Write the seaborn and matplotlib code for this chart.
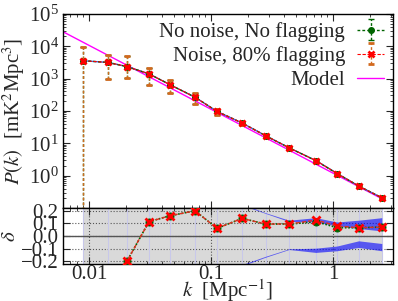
import numpy as np
import pandas as pd
import seaborn as sns
import matplotlib
matplotlib.use("Agg")
import matplotlib.pyplot as plt
from matplotlib.ticker import LogLocator, NullFormatter, FixedLocator

# k bins [Mpc^-1]
k = [0.009, 0.0143, 0.0205, 0.031, 0.046, 0.074, 0.112, 0.18, 0.28, 0.44, 0.73, 1.09, 1.64, 2.54]

# P(k) [mK^2 Mpc^3], noise + 80% flagging
P_flag = [3550, 3150, 2340, 1400, 650, 265, 96.6, 42.3, 17.2, 7.16, 2.88, 1.15, 0.47, 0.204]
# no noise, no flagging
P_clean = [3550, 3150, 2340, 1400, 650, 265, 96.6, 42.3, 17.2, 7.16, 2.85, 1.135, 0.47, 0.204]
# error bar bounds
P_hi = [9200, 5400, 5000, 2090, 910, 355, 117, 47, 18.6, 7.5, 3.0, 1.2, 0.49, 0.21]
P_lo = [0, 980, 1050, 645, 355, 166, 76, 38, 15.9, 6.8, 2.76, 1.1, 0.45, 0.198]

# model power spectrum
model_k = [0.005, 0.01, 0.1, 1.0, 2.54]
model_P = [41700, 10600, 113, 1.2, 0.19]

# fractional difference delta
delta_flag = [-0.72, -0.45, -0.196, 0.112, 0.159, 0.198, 0.06, 0.138, 0.094, 0.094, 0.125, 0.078, 0.065, 0.07]
delta_clean = [-0.72, -0.45, -0.196, 0.112, 0.159, 0.198, 0.06, 0.138, 0.094, 0.094, 0.112, 0.065, 0.065, 0.07]

# error bands (blue)
up_hi = [3.0, 2.5, 2.0, 1.5, 1.0, 0.7, 0.45, 0.25, 0.18, 0.12, 0.14, 0.106, 0.12, 0.14]
up_lo = [2.9, 2.4, 1.9, 1.45, 0.98, 0.68, 0.44, 0.24, 0.175, 0.11, 0.106, 0.075, 0.055, 0.036]
dn_hi = [-2.9, -2.4, -1.9, -1.45, -0.98, -0.68, -0.44, -0.23, -0.165, -0.105, -0.10, -0.083, -0.042, -0.063]
dn_lo = [-3.0, -2.5, -2.0, -1.5, -1.0, -0.7, -0.45, -0.24, -0.172, -0.11, -0.133, -0.12, -0.094, -0.12]

lbl_clean = "No noise, No flagging"
lbl_flag = "Noise, 80% flagging"
lbl_model = "Model"

sns.set_style("ticks")
plt.rcParams['font.family'] = ['Liberation Serif', 'DejaVu Serif']
plt.rcParams['mathtext.fontset'] = 'stix'
plt.rcParams['font.size'] = 15
plt.rcParams['xtick.direction'] = 'in'
plt.rcParams['ytick.direction'] = 'in'
plt.rcParams['xtick.top'] = True
plt.rcParams['ytick.right'] = True
plt.rcParams['axes.edgecolor'] = 'black'
plt.rcParams['axes.linewidth'] = 1.0

fig = plt.figure(figsize=(3.98, 3.01), dpi=100)
ax1 = fig.add_axes([0.158, 0.309, 0.829, 0.645])
ax2 = fig.add_axes([0.158, 0.123, 0.829, 0.186], sharex=ax1)

k_arr = np.array(k)
Pf = np.array(P_flag)
Pc = np.array(P_clean)
hi = np.array(P_hi)
lo = np.array(P_lo)

# ---- top panel
model_df = pd.DataFrame({'k': model_k, 'P': model_P})
sns.lineplot(data=model_df, x='k', y='P', color='magenta', lw=1, ax=ax1, zorder=2)
model_line = ax1.get_lines()[-1]

sns.lineplot(x=k, y=P_flag, color='royalblue', lw=1, ax=ax1, zorder=3)

eb_c = ax1.errorbar(k_arr, Pc, yerr=[Pc - lo, hi - Pc], color='darkgreen', marker='o', ms=4,
                    ls=(0, (2, 1.5)), lw=1, capsize=2, elinewidth=1, zorder=4)
eb_c[2][0].set_linestyle((0, (2, 1.5)))
eb_f = ax1.errorbar(k_arr, Pf, yerr=[Pf - lo, hi - Pf], color='red', marker='x', ms=5, mew=2,
                    ls=(0, (3, 1.5)), lw=0.8, capsize=2, elinewidth=1, ecolor='#d2691e', zorder=5)
eb_f[2][0].set_linestyle((0, (2, 1.5)))

ax1.set_xscale('log')
ax1.set_yscale('log')
ax1.set_xlim(0.0061, 3.1)
ax1.set_ylim(0.1, 1e5)
ax1.yaxis.set_major_locator(FixedLocator([1, 10, 100, 1e3, 1e4, 1e5]))
ax1.yaxis.set_minor_locator(LogLocator(base=10, subs=np.arange(2, 10), numticks=20))
ax1.yaxis.set_minor_formatter(NullFormatter())
ax1.tick_params(axis='x', labelbottom=False)
ax1.tick_params(which='major', length=5, width=0.8)
ax1.tick_params(which='minor', length=2.5, width=0.6)
ax1.tick_params(axis='y', pad=3)
ax1.set_xlabel('')
ax1.set_ylabel(r'$P(k)$  [mK$^2$Mpc$^3$]')
ax1.yaxis.set_label_coords(-0.11, 0.5)

ax1.legend([eb_c, eb_f, model_line], [lbl_clean, lbl_flag, lbl_model], loc='upper right',
           frameon=False, markerfirst=False, handlelength=1.3, handletextpad=0.6,
           labelspacing=0.2, borderaxespad=0.2, borderpad=0.2, fontsize=15)

# ---- bottom panel
ax2.axvspan(k[0], k[-1], color='#d9d9d9', lw=0, zorder=0)
ax2.vlines(k, -1, 1, color='#c8c8ea', lw=0.8, zorder=1)
ax2.fill_between(k, up_lo, up_hi, color='blue', alpha=0.6, lw=0, zorder=2)
ax2.fill_between(k, dn_lo, dn_hi, color='blue', alpha=0.6, lw=0, zorder=2)
ax2.axhline(0, color='#555555', lw=1, zorder=1)
ax2.grid(True, which='major', color='#555555', ls=':', lw=0.8)

sns.lineplot(x=k, y=delta_clean, color='darkgreen', ls=(0, (1, 1)), lw=1.2, marker='o', ms=5,
             mec='darkgreen', ax=ax2, zorder=4)
sns.lineplot(x=k, y=delta_flag, color='#e03020', ls=(0, (3, 1.5)), lw=1, marker='x', ms=6,
             mew=2, mec='red', ax=ax2, zorder=5)

ax2.set_ylim(-0.22, 0.22)
ax2.set_yticks([-0.2, -0.1, 0.0, 0.1, 0.2])
ax2.set_yticklabels(['\u22120.2', '\u22120.1', '0.0', '0.1', '0.2'])
ax2.set_xticks([0.01, 0.1, 1])
ax2.set_xticklabels(['0.01', '0.1', '1'])
ax2.xaxis.set_minor_formatter(NullFormatter())
ax2.tick_params(which='major', length=5, width=0.8)
ax2.tick_params(which='minor', length=2.5, width=0.6)
ax2.tick_params(axis='x', pad=1)
ax2.tick_params(axis='y', pad=3)
ax2.set_xlabel(r'$k$  [Mpc$^{-1}$]', labelpad=-5)
ax2.set_ylabel(r'$\delta$')
ax2.yaxis.set_label_coords(-0.13, 0.5)
ax2.set_xlim(0.0061, 3.1)

fig.savefig('out.png', dpi=100)
